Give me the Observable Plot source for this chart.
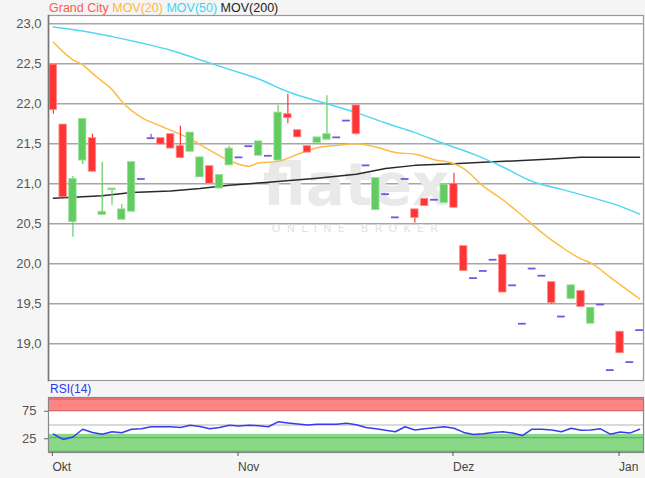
<!DOCTYPE html>
<html><head><meta charset="utf-8">
<script src="https://cdn.jsdelivr.net/npm/d3@7"></script>
<script src="https://cdn.jsdelivr.net/npm/@observablehq/plot@0.6"></script>
<style>
body{margin:0;background:#f5f5f5;font-family:"Liberation Sans",Arial,sans-serif}
#c{position:relative;width:645px;height:478px;background:#f5f5f5;overflow:hidden}
#c svg{position:absolute;left:0}
.t{position:absolute;white-space:nowrap}
</style></head><body><div id="c"></div>
<script>
// trading-day index 0..60 (Okt .. Jan)
const tickIndex = [0, 19, 41, 58];
const tickLabels = ["Okt", "Nov", "Dez", "Jan"];
const yTicks = [19.0, 19.5, 20.0, 20.5, 21.0, 21.5, 22.0, 22.5, 23.0];

const open  = [22.49,21.74,20.52,21.29,21.57,20.61,20.92,20.55,20.65,21.06,21.57,21.57,21.62,21.47,21.40,21.08,21.22,20.94,21.23,21.33,21.47,21.35,21.35,21.29,21.87,21.67,21.47,21.51,21.55,21.58,21.79,21.98,21.23,20.67,20.87,20.58,21.06,20.68,20.81,20.80,20.76,21.00,20.22,19.82,19.91,20.05,20.11,19.73,19.25,19.94,19.85,19.77,19.34,19.56,19.66,19.25,19.49,18.67,19.15,18.77,19.17];
const high  = [22.49,21.74,21.09,21.81,21.62,21.27,20.94,20.74,21.27,21.06,21.62,21.57,21.62,21.72,21.64,21.33,21.22,21.11,21.47,21.33,21.47,21.53,21.35,21.98,22.12,21.67,21.47,21.58,22.10,21.58,21.79,21.98,21.23,21.07,20.87,20.58,21.06,20.68,20.81,20.80,20.99,21.13,20.22,19.82,19.91,20.05,20.11,19.73,19.25,19.94,19.85,19.77,19.34,19.73,19.66,19.45,19.49,18.67,19.15,18.77,19.17];
const low   = [21.87,20.83,20.33,21.24,21.15,20.61,20.73,20.55,20.65,21.06,21.57,21.49,21.44,21.32,21.40,21.08,21.00,20.94,21.23,21.33,21.47,21.35,21.35,21.29,21.75,21.58,21.39,21.51,21.55,21.58,21.79,21.61,21.23,20.67,20.87,20.58,21.06,20.51,20.72,20.80,20.76,20.70,19.91,19.82,19.91,20.05,19.64,19.73,19.25,19.94,19.85,19.49,19.34,19.56,19.46,19.25,19.49,18.67,18.88,18.77,19.17];
const close = [21.92,20.83,21.06,21.81,21.15,20.65,20.94,20.68,21.27,21.06,21.57,21.49,21.44,21.32,21.64,21.33,21.00,21.11,21.44,21.33,21.47,21.53,21.35,21.89,21.82,21.58,21.39,21.58,21.62,21.58,21.79,21.62,21.23,21.07,20.87,20.58,21.06,20.57,20.72,20.80,20.99,20.70,19.91,19.82,19.91,20.05,19.64,19.73,19.25,19.94,19.85,19.51,19.34,19.73,19.46,19.45,19.49,18.67,18.88,18.77,19.17];

const ma20Idx = [0,1,2,3,4,5,6,7,9,11,14,16,18,20,21,23,25,27,29,31,33,35,37,39,41,42,44,46,48,50,52,54,55,57,60];
const ma20Val = [22.77,22.65,22.55,22.49,22.38,22.28,22.18,22.03,21.83,21.72,21.56,21.42,21.29,21.22,21.26,21.28,21.37,21.45,21.48,21.50,21.46,21.39,21.37,21.30,21.25,21.19,20.97,20.80,20.60,20.39,20.21,20.06,20.01,19.83,19.56];
const ma50Idx = [0,3,6,9,12,15,18,21,24,28,31,34,37,40,43,46,49,50,52,55,58,60];
const ma50Val = [22.96,22.91,22.84,22.76,22.67,22.55,22.43,22.31,22.15,22.0,21.89,21.76,21.64,21.50,21.37,21.21,21.03,20.99,20.93,20.83,20.72,20.62];
const ma200Idx = [0,2,5,8,12,15,18,22,27,31,34,37,41,44,48,51,54,60];
const ma200Val = [20.82,20.83,20.85,20.89,20.91,20.94,20.98,21.02,21.07,21.12,21.19,21.23,21.25,21.27,21.29,21.31,21.33,21.33];

const rsi = [33.3,23.7,28.2,42.3,36.5,33.3,37.8,35.9,42.3,43,46.8,46.8,46.8,45.5,49.4,47.4,43,45.5,49.4,48,49.4,48.7,46.8,55.8,53.8,51.9,50,51.3,51.3,51.3,53.2,50.6,45.5,43,40.4,37.8,46.8,41,43,44.9,46.8,44.2,36.5,32.7,34,36.5,37.8,35.3,30.8,42.3,42.3,41,37.8,44.2,40.4,41,43,33.3,37.2,35.3,42.3];
const rsiTicks = [25, 75];
const rsiBands = [{lo: 75, hi: 100, fill: "#ff8585"}, {lo: 0, hi: 33, fill: "#88d888"}];
const rsiRedLines = [97, 76];
const rsiGreenLines = [27, 2];
const rsiMid = [50];

const RED = "#ff3535", GREEN = "#62cc62", PURPLE = "#7356e0";
const candles = open.map((o, i) => ({i, o, h: high[i], l: low[i], c: close[i]}));
const col = d => d.c > d.o ? GREEN : d.c < d.o ? RED : PURPLE;
const bodies = candles.filter(d => d.c !== d.o);
const flats = candles.filter(d => d.c === d.o);
const line = (idx, val) => idx.map((i, k) => ({i, v: val[k]}));
const xDomain = [-0.5, 60.4];
const fmt = d => d.toFixed(1).replace(".", ",");

const main = Plot.plot({
  width: 645, height: 384,
  marginLeft: 48, marginRight: 2, marginTop: 15, marginBottom: 4,
  style: {background: "transparent", fontFamily: "Liberation Sans, Arial, sans-serif", fontSize: "13px", color: "#555"},
  x: {domain: xDomain, axis: null},
  y: {domain: [18.54, 23.104], ticks: yTicks, tickFormat: fmt, tickSize: 0, tickPadding: 7, label: null},
  marks: [
    Plot.frame({fill: "white", stroke: null}),
    Plot.ruleY(yTicks, {stroke: "#a6a6a6", strokeWidth: 1.4}),
    Plot.text(["flatex"], {frameAnchor: "middle", dx: 10, dy: -12, fontSize: 58, fontWeight: "bold", fill: "#e9e9e9", fontFamily: "DejaVu Sans, sans-serif", className: "wm1"}),
    Plot.text(["ONLINE BROKER"], {frameAnchor: "middle", dx: 12, dy: 30, fontSize: 11, fill: "#e2e2e2", fontFamily: "DejaVu Sans, sans-serif", className: "wm2"}),
    Plot.line(line(ma200Idx, ma200Val), {x: "i", y: "v", stroke: "#2a2a2a", strokeWidth: 1.5}),
    Plot.line(line(ma50Idx, ma50Val), {x: "i", y: "v", stroke: "#52d6f2", strokeWidth: 1.5, curve: "monotone-x"}),
    Plot.line(line(ma20Idx, ma20Val), {x: "i", y: "v", stroke: "#ffbb45", strokeWidth: 1.5, curve: "monotone-x"}),
    Plot.ruleX(candles.filter(d => d.h > d.l), {x: "i", y1: "l", y2: "h", stroke: col, strokeWidth: 1.2}),
    Plot.rect(bodies, {x1: d => d.i - 0.38, x2: d => d.i + 0.38, y1: "o", y2: "c", fill: col, stroke: d => d.c > d.o ? "#9be09b" : "#ff9090", strokeWidth: 0.8}),
    Plot.ruleY(flats, {y: "c", x1: d => d.i - 0.4, x2: d => d.i + 0.4, stroke: PURPLE, strokeWidth: 1.8}),
    Plot.frame({stroke: "#9a9a9a", strokeWidth: 1.2}),
    Plot.frame({anchor: "left", stroke: "#777", strokeWidth: 1.6})
  ]
});
main.style.top = "0px";
main.querySelectorAll("g.wm2 text").forEach(t => t.setAttribute("letter-spacing", "6.3px"));

const rsiPlot = Plot.plot({
  width: 645, height: 94,
  marginLeft: 48, marginRight: 2, marginTop: 13, marginBottom: 26,
  style: {background: "transparent", fontFamily: "Liberation Sans, Arial, sans-serif", fontSize: "13px", color: "#555"},
  x: {domain: xDomain, label: null},
  y: {domain: [0, 100], label: null},
  marks: [
    Plot.frame({fill: "white", stroke: null}),
    Plot.rectY(rsiBands, {y1: "lo", y2: "hi", fill: "fill"}),
    Plot.ruleY(rsiRedLines, {stroke: "#e06565", strokeWidth: 1.2}),
    Plot.ruleY(rsiGreenLines, {stroke: "#5fb85f", strokeWidth: 1.2}),
    Plot.ruleY(rsiMid, {stroke: "#b5b5b5", strokeWidth: 1.2}),
    Plot.line(rsi.map((v, i) => ({i, v})), {x: "i", y: "v", stroke: "#3a3af0", strokeWidth: 1.5}),
    Plot.frame({stroke: "#888", strokeWidth: 1.2}),
    Plot.axisY(rsiTicks, {tickSize: 4, tickPadding: 8, fontSize: 13, fill: "#555", stroke: "#666"}),
    Plot.axisX(tickIndex, {tickFormat: d => tickLabels[tickIndex.indexOf(d)], textAnchor: "start", tickSize: 4, tickPadding: 6, fontSize: 12, fill: "#444", stroke: "#556", dx: -1})
  ]
});
rsiPlot.style.top = "384px";

const c = document.getElementById("c");
c.appendChild(main);
c.appendChild(rsiPlot);

const title = document.createElement("div");
title.className = "t";
title.style.cssText = "left:49px;top:1px;font-size:12.5px;";
title.innerHTML = '<span style="color:#ff5a4a">Grand City</span> <span style="color:#ffb53a">MOV(20)</span> <span style="color:#3fd2f2">MOV(50)</span> <span style="color:#222">MOV(200)</span>';
c.appendChild(title);

const rl = document.createElement("div");
rl.className = "t";
rl.style.cssText = "left:50px;top:382px;font-size:12px;color:#2d36f5;";
rl.textContent = "RSI(14)";
c.appendChild(rl);
</script>
</body></html>
